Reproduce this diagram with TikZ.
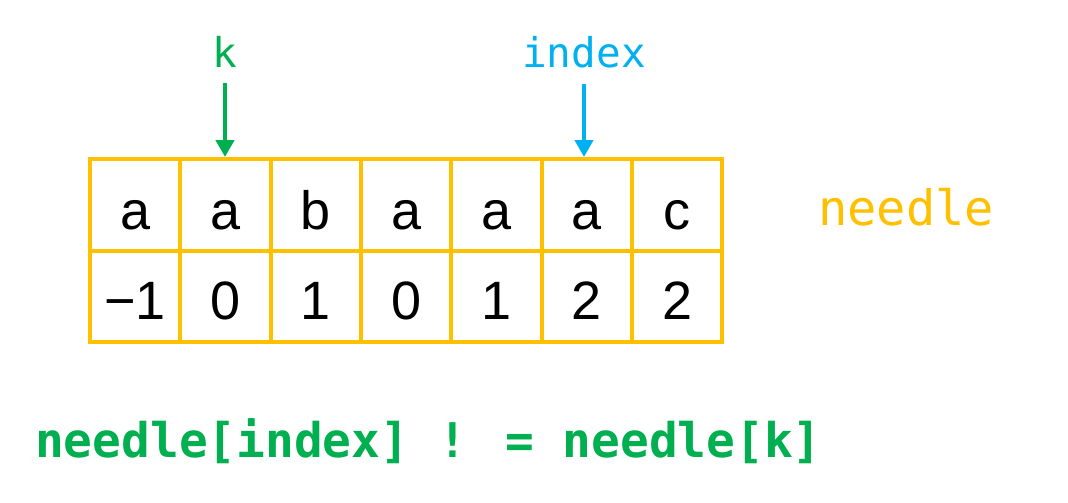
\documentclass[tikz,border=0pt]{standalone}
\usepackage{fontspec}
\setmainfont{Liberation Sans}
\newfontfamily\monofam{DejaVu Sans Mono}
\usetikzlibrary{arrows.meta}
\definecolor{cgreen}{RGB}{0,176,80}
\definecolor{cblue}{RGB}{0,176,240}
\definecolor{corange}{RGB}{255,192,0}
\tikzset{
  cell/.style={draw=corange, line width=4pt, minimum width=90.33pt, minimum height=91.5pt, inner sep=0pt, anchor=north west},
  celltext/.style={anchor=base, inner sep=0pt, font=\fontsize{54}{60}\selectfont, text=black},
  ptr/.style={line width=4.5pt, -{Triangle[width=18pt,length=17pt]}},
  lbl/.style={inner sep=0pt, anchor=base},
}
\begin{document}
\begin{tikzpicture}[x=1pt,y=-1pt]
\useasboundingbox (0,0) rectangle (1068,503);
\fill[white] (0,0) rectangle (1068,503);
\foreach \t [count=\i] in {a,a,b,a,a,a,c} {
  \node[cell] (t\i) at ({88+(\i-1)*90.33},157) {};
  \node[celltext] (tt\i) at ([yshift=-25pt]t\i.center) {\t};
}
\foreach \t [count=\i] in {−1,0,1,0,1,2,2} {
  \node[cell] (b\i) at ({88+(\i-1)*90.33},248.5) {};
  \node[celltext] (bt\i) at ([yshift=-23pt]b\i.center) {\t};
}
\node[lbl, text=cgreen, font=\monofam\fontsize{41}{46}\selectfont] (k) at (225,67) {k};
\node[lbl, text=cblue, font=\monofam\fontsize{41}{46}\selectfont] (idx) at (584,67) {index};
\draw[ptr, cgreen, shorten <=16pt] (k.south) -- (k.south |- t2.north);
\draw[ptr, cblue, shorten <=16pt] (idx.south) -- (idx.south |- t6.north);
\node[inner sep=0pt, anchor=base west, text=corange, font=\monofam\fontsize{48.7}{54}\selectfont] (needle) at (818,225) {needle};
\node[inner sep=0pt, anchor=base west, text=cgreen, font=\monofam\bfseries\fontsize{47.8}{54}\selectfont] (cond) at (35,457) {needle[index] ! = needle[k]};
\end{tikzpicture}
\end{document}
